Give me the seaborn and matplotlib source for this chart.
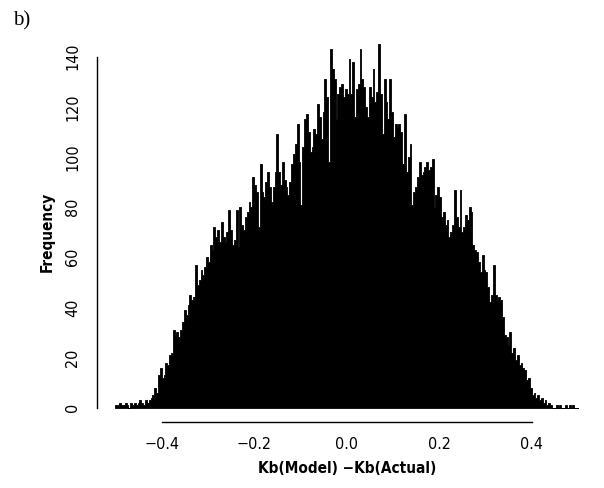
import numpy as np
import pandas as pd
import matplotlib
matplotlib.use("Agg")
import matplotlib.pyplot as plt
import seaborn as sns

# Histogram of Kb(Model) - Kb(Actual): bin edges and bin counts
bin_start = -0.5
bin_width = 0.004
counts = [
    1,
    1, 2, 1, 1, 2, 1, 0, 2, 1, 2, 1, 2, 3, 2, 1, 3, 2, 3, 4,
    5, 8, 6, 13, 16, 12, 13, 18, 17, 21, 22, 31, 29, 30, 28, 31, 34, 39, 37, 41,
    45, 43, 44, 57, 49, 51, 55, 53, 56, 60, 58, 65, 63, 72, 68, 71, 66, 74, 68, 66,
    70, 79, 71, 65, 67, 79, 64, 80, 73, 71, 76, 78, 82, 80, 92, 89, 86, 72, 97, 86,
    84, 90, 94, 88, 82, 88, 94, 109, 94, 89, 98, 91, 88, 85, 90, 97, 101, 105, 113, 98,
    81, 104, 115, 117, 110, 102, 104, 111, 109, 121, 116, 107, 118, 131, 124, 98, 143, 135, 131, 115,
    125, 128, 129, 124, 127, 125, 139, 125, 138, 116, 127, 129, 143, 131, 128, 120, 116, 128, 124, 135,
    122, 126, 145, 125, 109, 131, 122, 115, 131, 118, 108, 113, 112, 113, 110, 97, 117, 94, 100, 105,
    81, 86, 88, 92, 98, 93, 94, 96, 98, 95, 96, 99, 80, 85, 88, 84, 76, 78, 73, 75,
    68, 70, 73, 87, 76, 72, 87, 70, 72, 77, 75, 80, 78, 65, 63, 62, 58, 54, 61, 55,
    54, 48, 42, 45, 57, 45, 43, 44, 43, 36, 29, 28, 25, 30, 22, 24, 19, 21, 17, 18,
    16, 15, 11, 12, 8, 5, 6, 4, 5, 3, 4, 2, 3, 1, 2,
    1, 0, 0, 1, 0, 1, 0, 0, 1, 0, 1, 0, 1, 0, 0,
]
x_ticks = [-0.4, -0.2, 0.0, 0.2, 0.4]
x_tick_labels = ["\u22120.4", "\u22120.2", "0.0", "0.2", "0.4"]
y_ticks = [0, 20, 40, 60, 80, 100, 120, 140]
y_tick_labels = ["0", "20", "40", "60", "80", "100", "120", "140"]
x_label = "Kb(Model) \u2212Kb(Actual)"
y_label = "Frequency"
panel_label = "b)"

n = len(counts)
centers = bin_start + bin_width * (np.arange(n) + 0.5)
df = pd.DataFrame({"diff": centers, "count": counts})

sns.set_style("white")
plt.rcParams["font.family"] = ["DejaVu Sans Condensed", "DejaVu Sans"]
plt.rcParams["font.stretch"] = "condensed"

fig = plt.figure(figsize=(6.04, 4.88), dpi=100)
ax = fig.add_axes([0.1605, 0.1348, 0.827, 0.8045])

sns.histplot(data=df, x="diff", weights="count", binwidth=bin_width,
             binrange=(bin_start, bin_start + bin_width * n), element="step",
             fill=True, color="black", edgecolor="black", linewidth=0.6,
             alpha=1.0, ax=ax)

ax.set_xlim(-0.54, 0.54)
ax.set_ylim(-5.8, 150.8)

for s in ["top", "right"]:
    ax.spines[s].set_visible(False)
ax.spines["bottom"].set_bounds(x_ticks[0], x_ticks[-1])
ax.spines["left"].set_bounds(y_ticks[0], y_ticks[-1])
for s in ["bottom", "left"]:
    ax.spines[s].set_color("black")
    ax.spines[s].set_linewidth(1.0)

ax.set_xticks(x_ticks)
ax.set_xticklabels(x_tick_labels, fontsize=11.5, color="black")
ax.set_yticks(y_ticks)
ax.set_yticklabels(y_tick_labels, fontsize=11.5, rotation=90, va="center",
                   color="black")
ax.tick_params(axis="both", direction="out", length=5.8, width=1.0, color="black")
ax.tick_params(axis="x", pad=5)
ax.tick_params(axis="y", pad=6.3)

ax.set_xlabel(x_label, fontsize=11, fontweight="bold", color="black")
ax.set_ylabel(y_label, fontsize=11, fontweight="bold", color="black")
ax.xaxis.set_label_coords(0.5, -0.099)
ax.yaxis.set_label_coords(-0.084, 0.4845)

fig.text(0.0215, 0.978, panel_label, fontsize=15, family=["Liberation Serif"],
         va="top", ha="left", color="black")

fig.savefig("out.png", dpi=100)
